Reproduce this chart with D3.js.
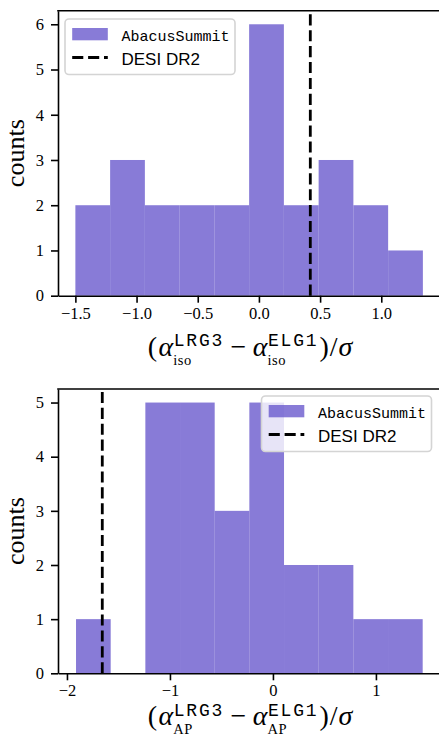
<!DOCTYPE html>
<html>
<head>
<meta charset="utf-8">
<script src="https://cdn.jsdelivr.net/npm/d3@7"></script>
<style>
  html, body { margin: 0; padding: 0; background: #fff; }
  svg { display: block; }
  .tick text { font-family: "Liberation Serif", serif; font-size: 16.5px; fill: #000; }
  .ylab { font-family: "Liberation Serif", serif; font-size: 26px; fill: #000; }
  .mrm { font-family: "Liberation Serif", serif; font-size: 28px; fill: #000; }
  .mit { font-family: "Liberation Serif", serif; font-style: italic; font-size: 28px; fill: #000; }
  .msup { font-family: "Liberation Mono", monospace; font-size: 18px; letter-spacing: 1.8px; fill: #000; }
  .msub { font-family: "Liberation Serif", serif; font-size: 14.5px; letter-spacing: 0.6px; fill: #000; }
  .legmono { font-family: "Liberation Mono", monospace; font-size: 15px; fill: #000; }
  .legsans { font-family: "Liberation Sans", sans-serif; font-size: 17px; fill: #000; }
</style>
</head>
<body>
<svg id="chart" width="439" height="738"></svg>
<script>
// ---------------- data ----------------
// Panel 1: alpha_iso differences (LRG3 - ELG1)/sigma
const isoBinRange = [-1.50, 1.34];
const isoCounts = [2, 3, 2, 2, 2, 6, 2, 3, 2, 1];
const isoDesi = 0.42;
const isoXTicks = [-1.5, -1.0, -0.5, 0.0, 0.5, 1.0];
const isoXTickLabels = ["\u22121.5", "\u22121.0", "\u22120.5", "0.0", "0.5", "1.0"];
const isoXDomain = [-1.642, 1.484];
const isoYDomain = [0, 6.3];
const isoYTicks = [0, 1, 2, 3, 4, 5, 6];

// Panel 2: alpha_AP differences (LRG3 - ELG1)/sigma
const apBinRange = [-1.912, 1.454];
const apCounts = [1, 0, 5, 5, 3, 5, 2, 2, 1, 1];
const apDesi = -1.657;
const apXTicks = [-2, -1, 0, 1];
const apXTickLabels = ["\u22122", "\u22121", "0", "1"];
const apXDomain = [-2.087, 1.627];
const apYDomain = [0, 5.25];
const apYTicks = [0, 1, 2, 3, 4, 5];

const seriesNames = ["AbacusSummit", "DESI DR2"];

// ---------------- drawing ----------------
const svg = d3.select("#chart");
const barColor = "#6a5acd";

function binsFrom(range, counts) {
  const n = counts.length;
  const w = (range[1] - range[0]) / n;
  return counts.map((c, i) => ({ x0: range[0] + i * w, x1: range[0] + (i + 1) * w, c }));
}

function measure(g, cls, t) {
  const el = g.append("text").attr("class", cls).text(t);
  const w = el.node().getComputedTextLength();
  el.remove();
  return w;
}

// one <text> element built of positioned tspans (base, superscript, subscript)
function mathLabel(g, cx, baseline, atoms) {
  const items = [];
  let x = 0;
  atoms.forEach(a => {
    x += a.gapL || 0;
    const w = measure(g, a.cls, a.t);
    items.push({ t: a.t, cls: a.cls, x, dy: 0 });
    const x2 = x + w;
    let ws = 0;
    if (a.sup) {
      items.push({ t: a.sup, cls: "msup", x: x2 + 0.5, dy: -9.5 });
      ws = Math.max(ws, measure(g, "msup", a.sup) + 0.5);
    }
    if (a.sub) {
      items.push({ t: a.sub, cls: "msub", x: x2, dy: 9.1 });
      ws = Math.max(ws, measure(g, "msub", a.sub));
    }
    x = x2 + ws + (a.gapR || 0);
  });
  const off = cx - x / 2;
  const txt = g.append("text");
  items.forEach(it => {
    txt.append("tspan").attr("class", it.cls)
      .attr("x", off + it.x).attr("y", baseline + it.dy).text(it.t);
  });
}

function legend(g, left, top, width) {
  const h = 55.5;
  g.append("rect").attr("x", left).attr("y", top).attr("width", width).attr("height", h)
    .attr("rx", 4).attr("ry", 4)
    .attr("fill", "#fff").attr("fill-opacity", 0.8)
    .attr("stroke", "#d4d4d4").attr("stroke-width", 1.6);
  g.append("rect").attr("x", left + 7.2).attr("y", top + 9).attr("width", 35.6).attr("height", 12.3)
    .attr("fill", barColor).attr("fill-opacity", 0.8);
  g.append("line").attr("x1", left + 7.2).attr("x2", left + 42.8)
    .attr("y1", top + 38.5).attr("y2", top + 38.5)
    .attr("stroke", "#000").attr("stroke-width", 2.8).attr("stroke-dasharray", "11.1,4.8");
  g.append("text").attr("class", "legmono").attr("x", left + 56.5).attr("y", top + 22.2).text(seriesNames[0]);
  g.append("text").attr("class", "legsans").attr("x", left + 56.5).attr("y", top + 45.8).text(seriesNames[1]);
}

function panel(cfg) {
  const x = d3.scaleLinear().domain(cfg.xDomain).range([cfg.left, cfg.right]);
  const y = d3.scaleLinear().domain(cfg.yDomain).range([cfg.bottom, cfg.top]);
  const g = svg.append("g");

  const bins = binsFrom(cfg.binRange, cfg.counts);
  g.append("g").selectAll("rect").data(bins.filter(b => b.c > 0)).join("rect")
    .attr("x", d => x(d.x0)).attr("width", d => x(d.x1) - x(d.x0))
    .attr("y", d => y(d.c)).attr("height", d => y(0) - y(d.c))
    .attr("fill", barColor).attr("fill-opacity", 0.8);

  g.append("line")
    .attr("x1", x(cfg.desi)).attr("x2", x(cfg.desi))
    .attr("y1", cfg.bottom).attr("y2", cfg.top)
    .attr("stroke", "#000").attr("stroke-width", 2.8).attr("stroke-dasharray", "11.1,4.8");

  const xa = g.append("g").attr("transform", `translate(0,${cfg.bottom})`)
    .call(d3.axisBottom(x).tickValues(cfg.xTicks)
      .tickFormat((d, i) => cfg.xTickLabels[i]).tickSize(7).tickPadding(7).tickSizeOuter(0));
  xa.selectAll(".tick text").attr("dy", "0.55em");
  const ya = g.append("g").attr("transform", `translate(${cfg.left},0)`)
    .call(d3.axisLeft(y).tickValues(cfg.yTicks).tickFormat(d3.format("d"))
      .tickSize(7).tickPadding(7).tickSizeOuter(0));
  [xa, ya].forEach(a => {
    a.attr("font-family", "Liberation Serif, serif").attr("font-size", 16.5);
    a.select(".domain").attr("stroke", "#000").attr("stroke-width", 1.6);
    a.selectAll(".tick line").attr("stroke", "#000").attr("stroke-width", 1.6);
  });
  // top and right spines
  g.append("line").attr("x1", cfg.left - 0.8).attr("x2", cfg.right + 0.8)
    .attr("y1", cfg.top).attr("y2", cfg.top).attr("stroke", "#000").attr("stroke-width", 1.6);
  g.append("line").attr("x1", cfg.right).attr("x2", cfg.right)
    .attr("y1", cfg.top).attr("y2", cfg.bottom).attr("stroke", "#000").attr("stroke-width", 1.6);

  g.append("text").attr("class", "ylab")
    .attr("transform", `translate(23.5,${(cfg.top + cfg.bottom) / 2}) rotate(-90)`)
    .attr("text-anchor", "middle").text("counts");

  mathLabel(g.append("g"), 250, cfg.labelBaseline, [
    { t: "(", cls: "mrm", gapR: 1.5 },
    { t: "\u03b1", cls: "mit", sup: "LRG3", sub: cfg.sub },
    { t: "\u2212", cls: "mrm", gapL: 6.4, gapR: 6.4 },
    { t: "\u03b1", cls: "mit", sup: "ELG1", sub: cfg.sub },
    { t: ")", cls: "mrm", gapL: 1 },
    { t: "/", cls: "mrm", gapL: 1 },
    { t: "\u03c3", cls: "mit", gapL: 1 }
  ]);

  legend(g.append("g"), cfg.legLeft, cfg.legTop, 170);
}

panel({
  left: 58, right: 440.5, top: 10.7, bottom: 295.7,
  xDomain: isoXDomain, yDomain: isoYDomain, binRange: isoBinRange, counts: isoCounts,
  desi: isoDesi, xTicks: isoXTicks, xTickLabels: isoXTickLabels, yTicks: isoYTicks,
  labelBaseline: 355.5, sub: "iso", legLeft: 65, legTop: 19
});
panel({
  left: 58, right: 440.5, top: 389, bottom: 673.3,
  xDomain: apXDomain, yDomain: apYDomain, binRange: apBinRange, counts: apCounts,
  desi: apDesi, xTicks: apXTicks, xTickLabels: apXTickLabels, yTicks: apYTicks,
  labelBaseline: 725, sub: "AP", legLeft: 261.5, legTop: 396
});
</script>
</body>
</html>
